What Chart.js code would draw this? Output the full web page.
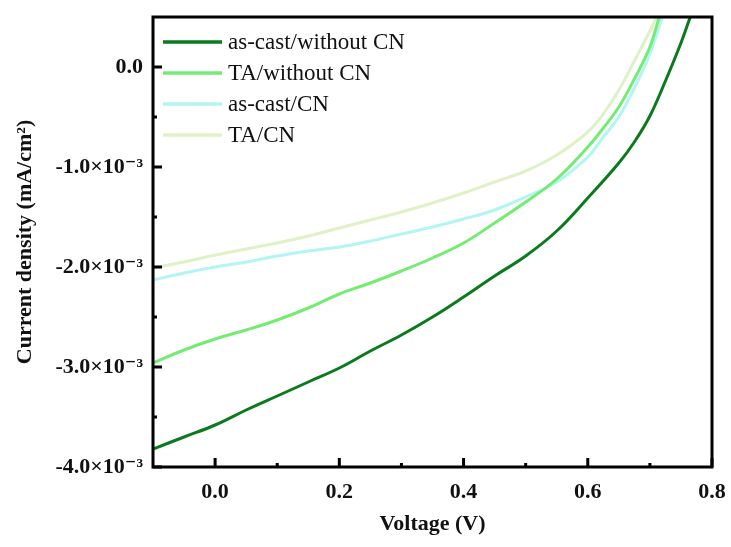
<!DOCTYPE html>
<html>
<head>
<meta charset="utf-8">
<script src="https://cdn.jsdelivr.net/npm/chart.js@4/dist/chart.umd.min.js"></script>
<style>
  html, body { margin: 0; padding: 0; background: #fff; }
  canvas { display: block; }
</style>
</head>
<body>
<canvas id="jv" width="731" height="547"></canvas>
<script>
// J–V curves, current density in mA/cm² versus voltage in V
const seriesNames = ['as-cast/without CN', 'TA/without CN', 'as-cast/CN', 'TA/CN'];
const seriesColors = ['#0b7a1e', '#74ec74', '#b2f5f2', '#def2c6'];

const vAsCastNoCN = [-0.1, -0.05, 0.0, 0.05, 0.1, 0.15, 0.2, 0.25, 0.3, 0.35, 0.4, 0.45, 0.5, 0.55, 0.6, 0.65, 0.675, 0.7, 0.725, 0.75, 0.765];
const jAsCastNoCN = [-3.82e-3, -3.70e-3, -3.58e-3, -3.43e-3, -3.29e-3, -3.15e-3, -3.01e-3, -2.84e-3, -2.68e-3, -2.50e-3, -2.30e-3, -2.09e-3, -1.89e-3, -1.64e-3, -1.31e-3, -0.96e-3, -0.75e-3, -0.49e-3, -0.14e-3, 0.24e-3, 0.50e-3];

const vTANoCN = [-0.1, -0.05, 0.0, 0.05, 0.1, 0.15, 0.2, 0.25, 0.3, 0.35, 0.4, 0.45, 0.5, 0.55, 0.6, 0.625, 0.65, 0.675, 0.7, 0.715];
const jTANoCN = [-2.96e-3, -2.83e-3, -2.72e-3, -2.63e-3, -2.53e-3, -2.41e-3, -2.27e-3, -2.16e-3, -2.04e-3, -1.91e-3, -1.76e-3, -1.56e-3, -1.35e-3, -1.12e-3, -0.80e-3, -0.61e-3, -0.40e-3, -0.12e-3, 0.20e-3, 0.50e-3];

const vAsCastCN = [-0.1, -0.05, 0.0, 0.05, 0.1, 0.15, 0.2, 0.25, 0.3, 0.35, 0.4, 0.45, 0.5, 0.55, 0.6, 0.625, 0.65, 0.675, 0.7, 0.72];
const jAsCastCN = [-2.13e-3, -2.06e-3, -2.00e-3, -1.95e-3, -1.89e-3, -1.84e-3, -1.80e-3, -1.74e-3, -1.67e-3, -1.60e-3, -1.52e-3, -1.43e-3, -1.30e-3, -1.15e-3, -0.90e-3, -0.70e-3, -0.50e-3, -0.21e-3, 0.13e-3, 0.50e-3];

const vTACN = [-0.1, -0.05, 0.0, 0.05, 0.1, 0.15, 0.2, 0.25, 0.3, 0.35, 0.4, 0.45, 0.5, 0.55, 0.6, 0.625, 0.65, 0.675, 0.7, 0.711];
const jTACN = [-2.01e-3, -1.95e-3, -1.88e-3, -1.82e-3, -1.76e-3, -1.69e-3, -1.61e-3, -1.53e-3, -1.45e-3, -1.36e-3, -1.26e-3, -1.15e-3, -1.04e-3, -0.88e-3, -0.65e-3, -0.47e-3, -0.23e-3, 0.06e-3, 0.36e-3, 0.50e-3];

// axis ticks
const xTickValues = [0.0, 0.2, 0.4, 0.6, 0.8];
const xTickLabels = ['0.0', '0.2', '0.4', '0.6', '0.8'];
const xMinorTicks = [0.1, 0.3, 0.5, 0.7];
const yTickValues = [0, -1e-3, -2e-3, -3e-3, -4e-3];
const yTickLabels = ['0.0', '-1.0\u00d710\u207b\u00b3', '-2.0\u00d710\u207b\u00b3', '-3.0\u00d710\u207b\u00b3', '-4.0\u00d710\u207b\u00b3'];
const yMinorTicks = [-0.5e-3, -1.5e-3, -2.5e-3, -3.5e-3];

const SERIF = '"Liberation Serif", "Times New Roman", "DejaVu Serif", serif';

function pairs(xs, ys) { return xs.map((x, i) => ({ x: x, y: ys[i] })); }

const seriesData = [
  pairs(vAsCastNoCN, jAsCastNoCN),
  pairs(vTANoCN, jTANoCN),
  pairs(vAsCastCN, jAsCastCN),
  pairs(vTACN, jTACN)
];

// frame, inward ticks and in-plot legend
const framePlugin = {
  id: 'frame',
  afterDraw(chart) {
    const { ctx, chartArea: a, scales } = chart;
    ctx.save();
    ctx.strokeStyle = '#000';
    ctx.lineWidth = 3;
    ctx.strokeRect(a.left, a.top, a.right - a.left, a.bottom - a.top);

    ctx.beginPath();
    xTickValues.forEach(v => {
      const px = scales.x.getPixelForValue(v);
      ctx.moveTo(px, a.bottom); ctx.lineTo(px, a.bottom - 9);
    });
    yTickValues.forEach(v => {
      const py = scales.y.getPixelForValue(v);
      ctx.moveTo(a.left, py); ctx.lineTo(a.left + 9, py);
    });
    ctx.stroke();
    ctx.beginPath();
    xMinorTicks.forEach(v => {
      const px = scales.x.getPixelForValue(v);
      ctx.moveTo(px, a.bottom); ctx.lineTo(px, a.bottom - 4);
    });
    yMinorTicks.forEach(v => {
      const py = scales.y.getPixelForValue(v);
      ctx.moveTo(a.left, py); ctx.lineTo(a.left + 4, py);
    });
    ctx.stroke();

    // legend
    ctx.font = '23px ' + SERIF;
    ctx.textBaseline = 'middle';
    ctx.textAlign = 'left';
    chart.data.datasets.forEach((ds, i) => {
      const y = a.top + 25 + i * 31;
      ctx.strokeStyle = ds.borderColor;
      ctx.lineWidth = 3.5;
      ctx.beginPath();
      ctx.moveTo(a.left + 10, y);
      ctx.lineTo(a.left + 69, y);
      ctx.stroke();
      ctx.fillStyle = '#111';
      ctx.fillText(ds.label, a.left + 75, y + 1);
    });
    ctx.restore();
  }
};

new Chart(document.getElementById('jv'), {
  type: 'line',
  data: {
    datasets: seriesNames.map((name, i) => ({
      label: name,
      data: seriesData[i],
      borderColor: seriesColors[i],
      backgroundColor: seriesColors[i],
      borderWidth: 3,
      pointRadius: 0,
      fill: false,
      tension: 0.4
    }))
  },
  options: {
    responsive: false,
    animation: false,
    layout: { padding: { left: 0, top: 17, right: 19, bottom: 0 } },
    plugins: { legend: { display: false }, tooltip: { enabled: false } },
    scales: {
      x: {
        type: 'linear',
        min: -0.1,
        max: 0.8,
        afterFit(s) { s.height = 80; s.paddingLeft = 0; s.paddingRight = 0; },
        afterBuildTicks(s) { s.ticks = xTickValues.map(v => ({ value: v })); },
        grid: { display: false, drawTicks: false },
        border: { display: false },
        ticks: {
          padding: 12,
          color: '#111',
          font: { family: SERIF, size: 22, weight: 'bold' },
          callback: (v) => xTickLabels[xTickValues.indexOf(v)],
          maxRotation: 0
        },
        title: {
          display: true,
          text: 'Voltage (V)',
          color: '#111',
          padding: { top: 0, bottom: 9 },
          font: { family: SERIF, size: 22, weight: 'bold' }
        }
      },
      y: {
        type: 'linear',
        min: -4e-3,
        max: 0.5e-3,
        afterFit(s) { s.width = 153; s.paddingTop = 0; s.paddingBottom = 0; },
        afterBuildTicks(s) { s.ticks = yTickValues.map(v => ({ value: v })); },
        grid: { display: false, drawTicks: false },
        border: { display: false },
        ticks: {
          padding: 10,
          color: '#111',
          font: { family: SERIF, size: 22, weight: 'bold' },
          callback: (v) => yTickLabels[yTickValues.indexOf(v)]
        },
        title: {
          display: true,
          text: 'Current density (mA/cm\u00b2)',
          color: '#111',
          padding: { top: 12, bottom: 0 },
          font: { family: SERIF, size: 22, weight: 'bold' }
        }
      }
    }
  },
  plugins: [framePlugin]
});
</script>
</body>
</html>
